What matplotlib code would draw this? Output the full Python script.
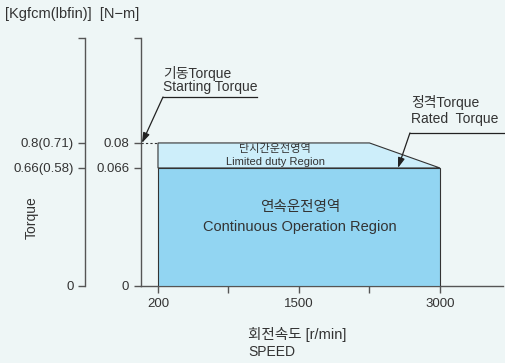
import matplotlib
matplotlib.use("Agg")
import matplotlib.pyplot as plt
from matplotlib.patches import Polygon

plt.rcParams['font.family'] = ['Liberation Sans', 'Noto Sans CJK KR']

# chart data
speed_pos = [0, 1, 2, 3, 4]
speed_labels = ['200', '', '1500', '', '3000']
torque_nm = [0, 0.066, 0.08]
torque_nm_labels = ['0', '0.066', '0.08']
torque_kgf = [0, 0.66, 0.8]
torque_kgf_labels = ['0', '0.66(0.58)', '0.8(0.71)']
start_torque = 0.08
rated_torque = 0.066
slope_start = 3      # index where limited region starts falling
max_speed = 4

ink = '#333333'
bg = '#eef6f6'
W, H = 506, 363

fig = plt.figure(figsize=(W / 100, H / 100), dpi=100, facecolor=bg)


def fx(px):
    return px / W


def fy(py):
    return 1 - py / H


# main axes (N-m)
ax = fig.add_axes([fx(141), fy(286), fx(503) - fx(141), fy(38) - fy(286)])
ax.set_facecolor('none')
ymax = 0.1387
ax.set_xlim(-0.241, 4.894)
ax.set_ylim(0, ymax)
for s in ['top', 'right']:
    ax.spines[s].set_visible(False)
for s in ['left', 'bottom']:
    ax.spines[s].set_color('#555555')
    ax.spines[s].set_linewidth(1.0)

ax.set_yticks(torque_nm + [ymax])
ax.set_yticklabels(torque_nm_labels + [''])
ax.set_xticks(speed_pos)
ax.set_xticklabels(speed_labels)
ax.tick_params(axis='both', direction='out', length=5, width=1.0, color='#555555',
               labelcolor=ink, labelsize=9.5, pad=3.5)

# limited duty region (light)
light = Polygon([(0, rated_torque), (0, start_torque), (slope_start, start_torque),
                 (max_speed, rated_torque)], closed=True, facecolor='#cdeefa',
                edgecolor='#333333', linewidth=0.8, zorder=2)
ax.add_patch(light)
# continuous region (dark)
dark = Polygon([(0, 0), (0, rated_torque), (max_speed, rated_torque), (max_speed, 0)],
               closed=True, facecolor='#92d5f2', edgecolor='#333333', linewidth=0.8, zorder=3)
ax.add_patch(dark)

# dashed line to axis at starting torque
ax.plot([-0.241, 0], [start_torque, start_torque], color='#333333', lw=0.8,
        ls=(0, (2, 2)), zorder=4, clip_on=False)

ax.text(1.66, 0.0766, '단시간운전영역', ha='center', va='center', fontsize=8, color=ink, zorder=5)
ax.text(1.66, 0.0694, 'Limited duty Region', ha='center', va='center', fontsize=8, color=ink, zorder=5)
ax.text(2.01, 0.0442, '연속운전영역', ha='center', va='center', fontsize=10.5, color=ink, zorder=5)
ax.text(2.01, 0.033, 'Continuous Operation Region', ha='center', va='center', fontsize=10.5,
        color=ink, zorder=5)

# starting torque callout
ax.text(0.071, 0.119, '기동Torque', ha='left', va='center', fontsize=10, color=ink)
ax.text(0.071, 0.1113, 'Starting Torque', ha='left', va='center', fontsize=10, color=ink)
ax.plot([0.071, 1.404], [0.1057, 0.1057], color='#222222', lw=0.9, clip_on=False)
ax.annotate('', xy=(-0.227, start_torque), xytext=(0.071, 0.1057),
            arrowprops=dict(arrowstyle='-|>,head_length=0.6,head_width=0.2',
                            color='#222222', lw=0.9, shrinkA=0, shrinkB=0))

# rated torque callout
ax.text(3.589, 0.1024, '정격Torque', ha='left', va='center', fontsize=10, color=ink)
ax.text(3.589, 0.0934, 'Rated  Torque', ha='left', va='center', fontsize=10, color=ink)
ax.plot([3.574, 4.92], [0.0856, 0.0856], color='#222222', lw=0.9, clip_on=False)
ax.annotate('', xy=(3.404, rated_torque), xytext=(3.574, 0.0856),
            arrowprops=dict(arrowstyle='-|>,head_length=0.6,head_width=0.2',
                            color='#222222', lw=0.9, shrinkA=0, shrinkB=0), zorder=6)

# secondary axis (Kgfcm)
ax2 = fig.add_axes([fx(85.5), fy(286), 0.001, fy(38) - fy(286)])
ax2.set_facecolor('none')
kmax = ymax * 10
ax2.set_ylim(0, kmax)
for s in ['top', 'right', 'bottom']:
    ax2.spines[s].set_visible(False)
ax2.spines['left'].set_color('#555555')
ax2.spines['left'].set_linewidth(1.0)
ax2.set_xticks([])
ax2.set_yticks(torque_kgf + [kmax])
ax2.set_yticklabels(torque_kgf_labels + [''])
ax2.tick_params(axis='y', direction='out', length=5, width=1.0, color='#555555',
                labelcolor=ink, labelsize=9.5, pad=3.5)

# labels
fig.text(fx(5), fy(14), '[Kgfcm(lbfin)]  [N−m]', ha='left', va='center', fontsize=10.5, color=ink)
fig.text(fx(32), fy(218), 'Torque', rotation=90, ha='center', va='center', fontsize=10, color=ink)
fig.text(fx(248), fy(335), '회전속도 [r/min]', ha='left', va='center', fontsize=10.5, color=ink)
fig.text(fx(248), fy(352), 'SPEED', ha='left', va='center', fontsize=10, color=ink)

fig.savefig('out.png', dpi=100, facecolor=bg)
